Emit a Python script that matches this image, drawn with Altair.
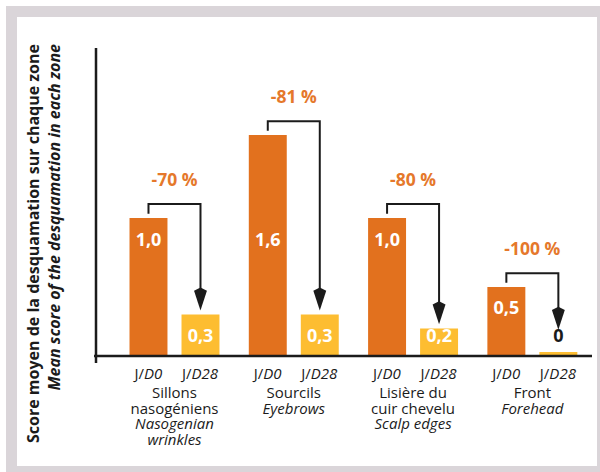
import altair as alt
import pandas as pd

# ---- data ----
zone_keys = ["sillons", "sourcils", "lisiere", "front"]
zones_fr = ["Sillons\nnasogéniens", "Sourcils", "Lisière du\ncuir chevelu", "Front"]
zones_en = ["Nasogenian\nwrinkles", "Eyebrows", "Scalp edges", "Forehead"]
days = ["D0", "D28"]
score_d0 = [1.0, 1.6, 1.0, 0.5]
score_d28 = [0.3, 0.3, 0.2, 0.0]
reductions = ["-70 %", "-81 %", "-80 %", "-100 %"]
y_ticks = [0, 0.5, 1, 1.5, 2]

# ---- style ----
ORANGE = "#E2711E"
YELLOW = "#FDBD31"
PCT = "#E5782B"
INK = "#1b1b1b"
FRAME = "#DAD5D9"
FONT = "Open Sans"
W, H = 496, 308
Y_MAX = 2.23
LINE = 15.5


def fr_num(v):
    return "0" if v == 0 else f"{v:.1f}".replace(".", ",")


def value_label_y(v):
    return 0.14 if v < 0.4 else min(v - 0.16, 0.83)


bar_rows, path_rows, arrow_rows, pct_rows = [], [], [], []
for k, a, b, r in zip(zone_keys, score_d0, score_d28, reductions):
    for d, v in zip(days, (a, b)):
        bar_rows.append({"zone": k, "day": d, "score": v, "label": fr_num(v),
                         "label_y": value_label_y(v)})
    top = a + 0.10
    tip = b + 0.03 if b > 0 else value_label_y(b) + 0.05
    for i, (d, yv) in enumerate([("D0", a + 0.03), ("D0", top), ("D28", top), ("D28", tip + 0.09)]):
        path_rows.append({"zone": k, "day": d, "y": yv, "seq": i})
    arrow_rows.append({"zone": k, "day": "D28", "y": tip})
    pct_rows.append({"zone": k, "text": r, "y": top + 0.17})

bars_df = pd.DataFrame(bar_rows)
path_df = pd.DataFrame(path_rows)
arrow_df = pd.DataFrame(arrow_rows)
pct_df = pd.DataFrame(pct_rows)
zone_df = pd.DataFrame({"zone": zone_keys, "fr": zones_fr, "en": zones_en,
                        "fr_lines": [s.count("\n") + 1 for s in zones_fr]})
one = pd.DataFrame({"k": [0]})

# ---- shared encodings ----
X = alt.X("zone:N", sort=zone_keys,
          scale=alt.Scale(domain=zone_keys, paddingInner=0, paddingOuter=0.079, align=1),
          axis=None)
XO = alt.XOffset("day:N", sort=days,
                 scale=alt.Scale(domain=days, paddingInner=0.27, paddingOuter=0.282))
Y_SCALE = alt.Scale(domain=[0, Y_MAX], nice=False, zero=True)
Y_AXIS = alt.Axis(values=y_ticks, labelExpr="datum.value % 1 == 0 ? datum.label : ''",
                  domain=False, grid=False, ticks=True, tickSize=6, tickWidth=1.5,
                  tickColor=INK, labelFont=FONT, labelFontSize=14, labelColor=INK,
                  labelPadding=6)


def Y(field):
    return alt.Y(field, type="quantitative", scale=Y_SCALE, axis=Y_AXIS, title=None)


day_color = alt.Scale(domain=days, range=[ORANGE, YELLOW])

# ---- frame ----
frame = alt.Chart(one).mark_rect(color=FRAME).encode(
    x=alt.value(-90), x2=alt.value(504), y=alt.value(-42), y2=alt.value(424))
panel = alt.Chart(one).mark_rect(color="white").encode(
    x=alt.value(-79), x2=alt.value(501), y=alt.value(-31), y2=alt.value(418))

# ---- bars ----
bars = alt.Chart(bars_df).mark_bar().encode(
    x=X, xOffset=XO, y=Y("score"),
    color=alt.Color("day:N", scale=day_color, legend=None))
zero_bars = alt.Chart(bars_df).transform_filter("datum.score == 0").mark_bar(
    strokeWidth=3, yOffset=-2.5).encode(
    x=X, xOffset=XO, y=Y("score"),
    color=alt.Color("day:N", scale=day_color, legend=None),
    stroke=alt.Stroke("day:N", scale=day_color, legend=None))

value_labels = alt.Chart(bars_df).mark_text(
    font=FONT, fontSize=18, fontWeight="bold", baseline="middle").encode(
    x=X, xOffset=XO, y=Y("label_y"), text="label:N",
    color=alt.condition("datum.score > 0", alt.value("white"), alt.value(INK)))

# ---- axis lines ----
y_line = alt.Chart(one).mark_rule(color=INK, strokeWidth=2.5).encode(
    x=alt.value(0), y=alt.value(0), y2=alt.value(H + 7))
x_line = alt.Chart(one).mark_rule(color=INK, strokeWidth=2.5).encode(
    x=alt.value(-2), x2=alt.value(W), y=alt.value(H))

# ---- reduction brackets ----
brackets = alt.Chart(path_df).mark_line(color=INK, strokeWidth=2, strokeJoin="miter").encode(
    x=X, xOffset=XO, y=Y("y"), detail="zone:N", order="seq:Q")
heads = alt.Chart(arrow_df).mark_point(
    shape="M0,-1 L0.56,-0.72 L0,1 L-0.56,-0.72 Z", size=529, filled=True,
    color=INK, opacity=1, yOffset=-11.5).encode(x=X, xOffset=XO, y=Y("y"))
pct_labels = alt.Chart(pct_df).mark_text(
    font=FONT, fontSize=17.5, fontWeight="bold", color=PCT, baseline="middle").encode(
    x=X, y=Y("y"), text="text:N")

# ---- category labels under the axis ----
day_labels = []
for d, shift in (("D0", -4.5), ("D28", -9)):
    sub = bars_df[bars_df["day"] == d]
    day_labels.append(alt.Chart(sub).mark_text(
        font=FONT, fontSize=15, color=INK, align="right", baseline="middle", dx=shift).encode(
        x=X, xOffset=XO, y=alt.value(H + 18), text=alt.value("J/")))
    day_labels.append(alt.Chart(sub).mark_text(
        font=FONT, fontSize=15, color=INK, align="left", baseline="middle", dx=shift,
        fontStyle="italic").encode(
        x=X, xOffset=XO, y=alt.value(H + 18), text="day:N"))

fr_labels = alt.Chart(zone_df).mark_text(
    font=FONT, fontSize=15, color=INK, baseline="top", lineBreak="\n", lineHeight=LINE).encode(
    x=X, y=alt.value(H + 30), text="fr:N")
en_labels = []
for n in (1, 2):
    en_labels.append(alt.Chart(zone_df).transform_filter(f"datum.fr_lines == {n}").mark_text(
        font=FONT, fontSize=15, color=INK, baseline="top", lineBreak="\n", lineHeight=LINE,
        fontStyle="italic").encode(x=X, y=alt.value(H + 30 + LINE * n), text="en:N"))

# ---- vertical axis title ----
title_fr = alt.Chart(one).mark_text(
    text="Score moyen de la desquamation sur chaque zone", font=FONT, fontSize=16,
    fontWeight="bold", color=INK, angle=270, align="right", baseline="middle").encode(
    x=alt.value(-62), y=alt.value(-4))
title_en = alt.Chart(one).mark_text(
    text="Mean score of the desquamation in each zone", font=FONT, fontSize=16,
    fontWeight="bold", fontStyle="italic", color=INK, angle=270, align="right",
    baseline="middle").encode(x=alt.value(-41), y=alt.value(-4))

chart = alt.layer(
    frame, panel, bars, zero_bars, value_labels, y_line, x_line,
    brackets, heads, pct_labels, *day_labels, fr_labels, *en_labels,
    title_fr, title_en,
).properties(
    width=W, height=H,
    padding={"left": 96, "top": 48, "right": 8, "bottom": 116},
    autosize=alt.AutoSizeParams(type="none"),
).configure_view(strokeWidth=0)

chart.save("out.html", embed_options={"renderer": "svg", "actions": False})
